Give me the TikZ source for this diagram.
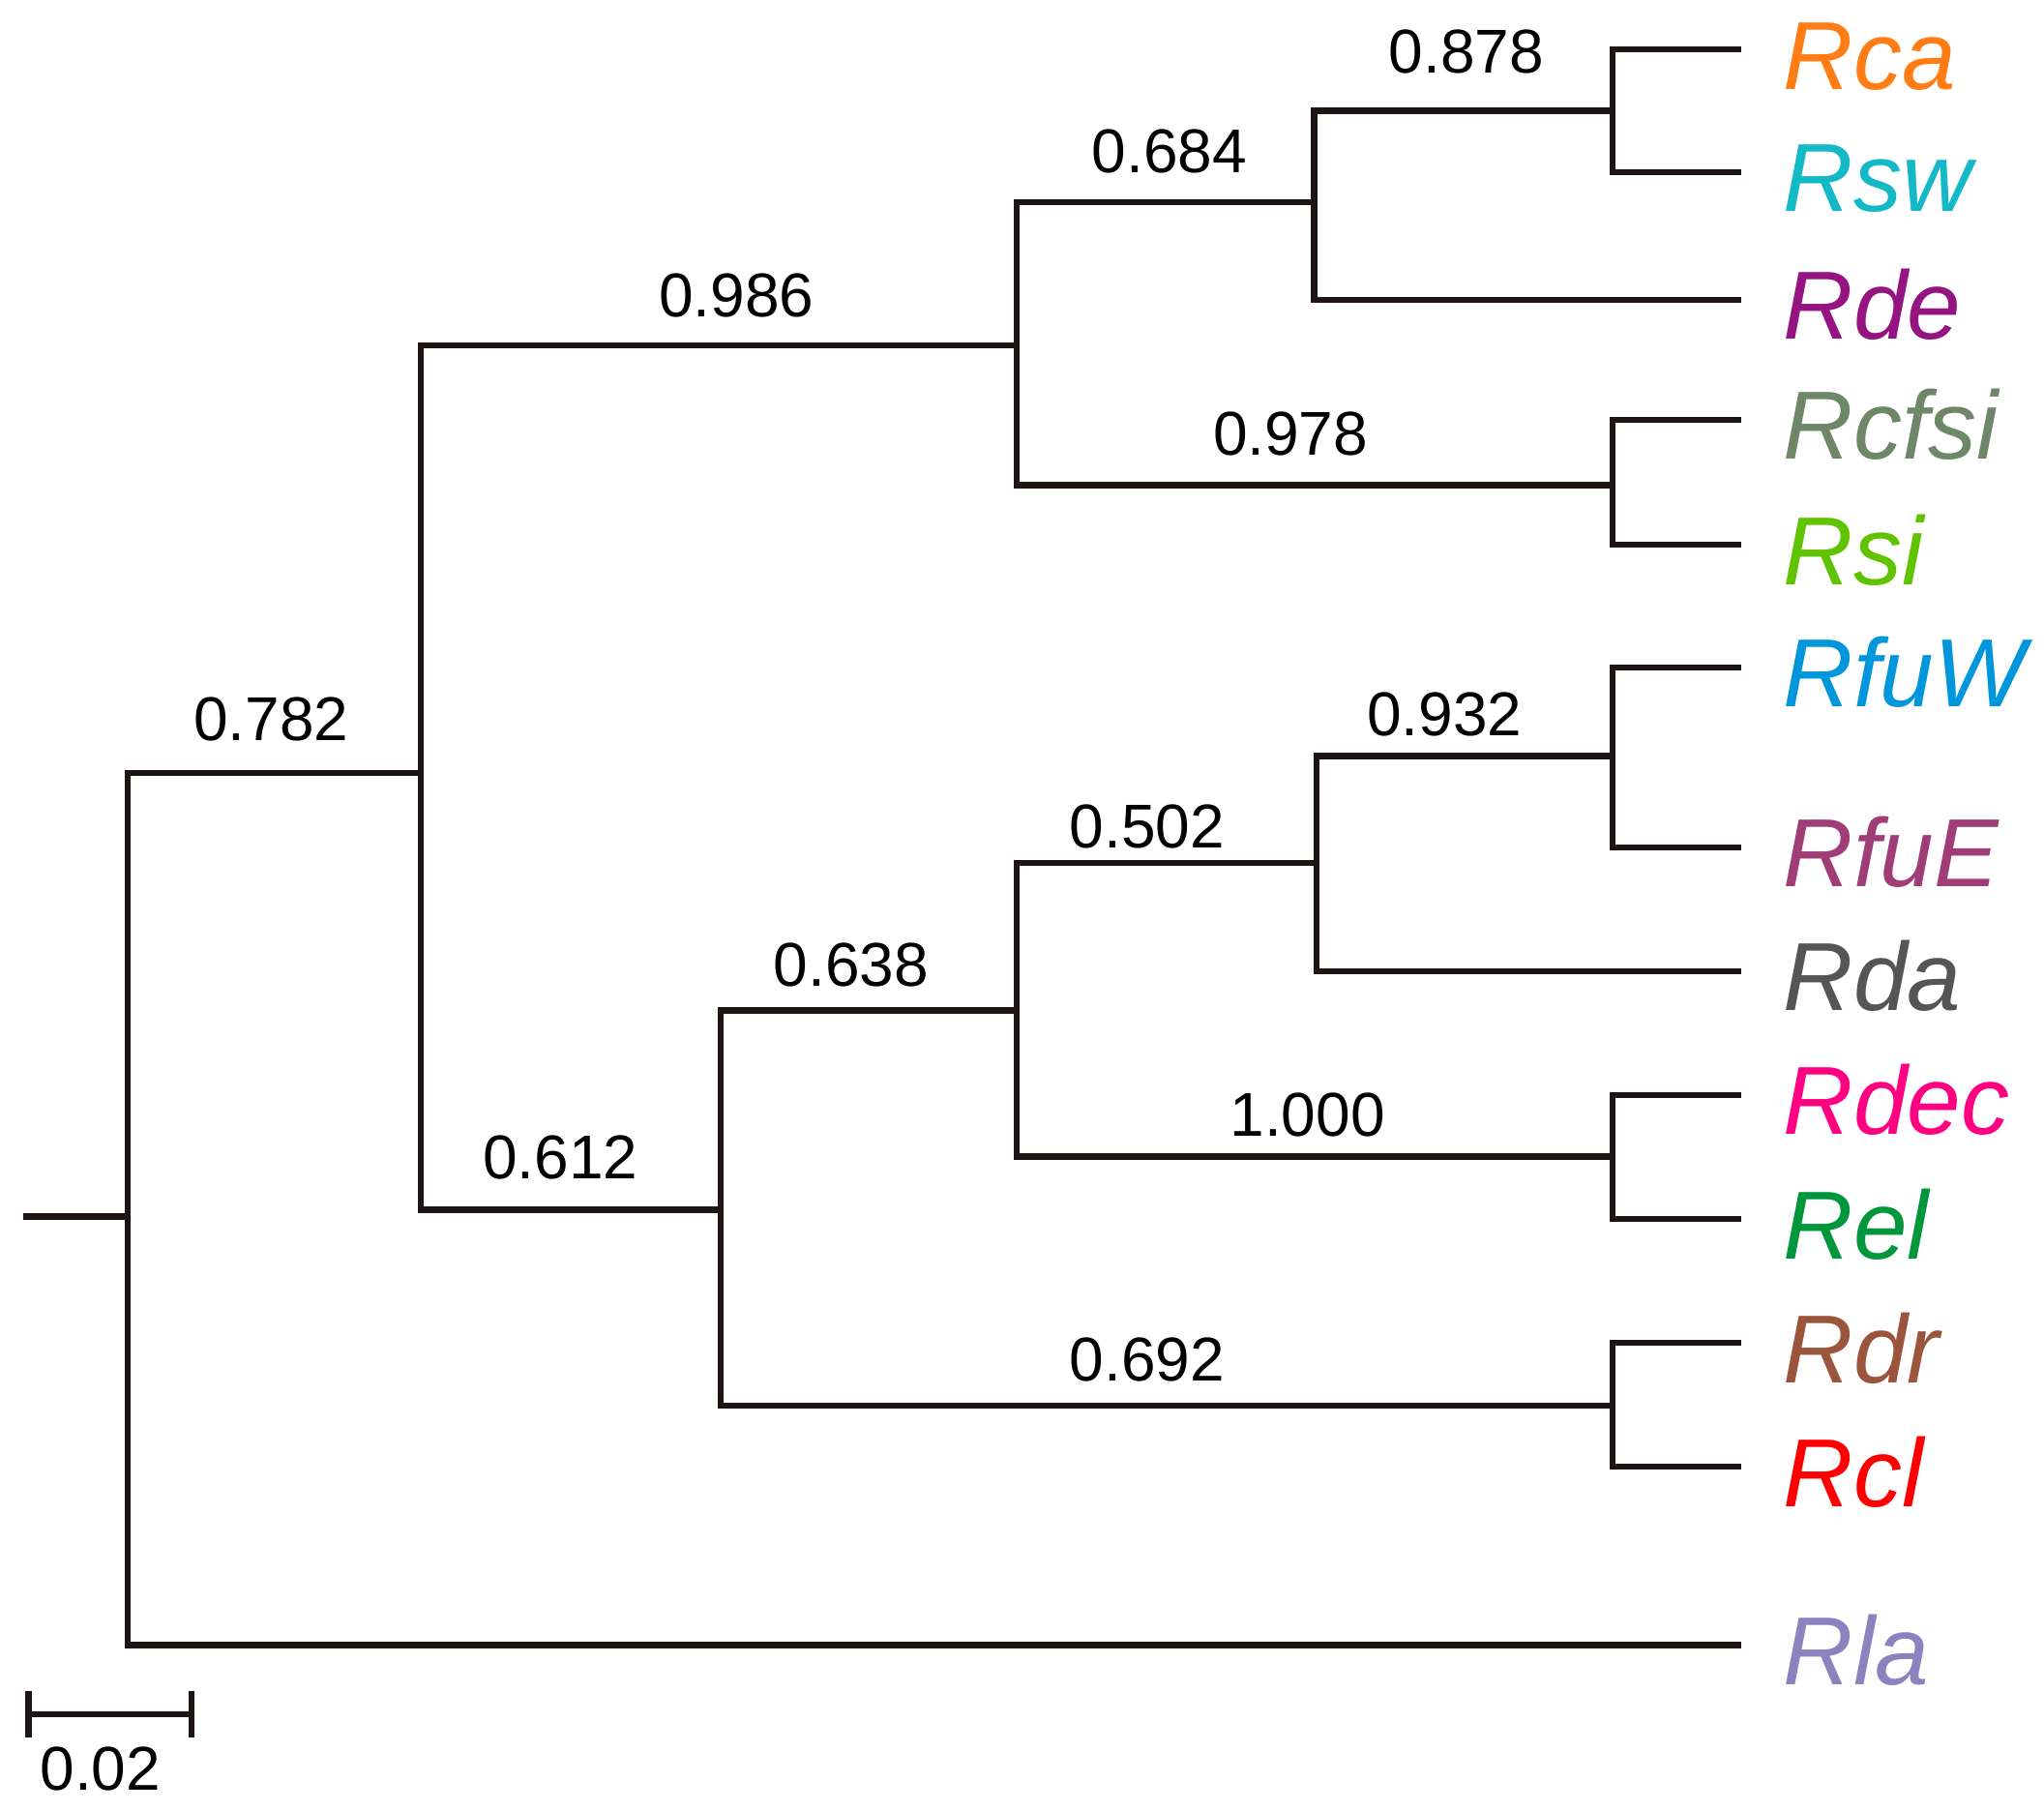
\documentclass[tikz,border=0pt]{standalone}
\usepackage{fontspec}
\setmainfont{Liberation Sans}
\definecolor{cRca}{RGB}{255,125,20}
\definecolor{cRsw}{RGB}{20,185,200}
\definecolor{cRde}{RGB}{150,20,130}
\definecolor{cRcfsi}{RGB}{110,135,105}
\definecolor{cRsi}{RGB}{95,195,0}
\definecolor{cRfuW}{RGB}{0,150,220}
\definecolor{cRfuE}{RGB}{160,60,120}
\definecolor{cRda}{RGB}{85,85,85}
\definecolor{cRdec}{RGB}{255,0,130}
\definecolor{cRel}{RGB}{0,150,60}
\definecolor{cRdr}{RGB}{155,85,60}
\definecolor{cRcl}{RGB}{255,0,0}
\definecolor{cRla}{RGB}{140,130,190}
\definecolor{branch}{RGB}{30,20,20}
\begin{document}
\begin{tikzpicture}[x=0.6738pt,y=-0.6738pt,
  br/.style={draw=branch,line width=3.2pt,line join=miter,line cap=rect},
  taxon/.style={anchor=base west,inner sep=0pt,font=\fontsize{50}{54}\selectfont\itshape,yshift=-20.5pt},
  support/.style={anchor=center,inner sep=0pt,font=\fontsize{32}{36}\selectfont}]
\fill[white] (0,0) rectangle (1568,1389);
\useasboundingbox (0,0) rectangle (1568,1389);
% internal nodes
\coordinate (stub) at (20,933);
\coordinate (root) at (98,933);
\coordinate (A) at (323,593);
\coordinate (B) at (780,265);
\coordinate (C) at (1008,155);
\coordinate (D) at (1237,85);
\coordinate (E) at (1237,372);
\coordinate (F) at (553,928);
\coordinate (G) at (780,775);
\coordinate (H) at (1010,662);
\coordinate (I) at (1237,580);
\coordinate (J) at (1237,887);
\coordinate (K) at (1237,1078);
% leaf tips
\coordinate (tRca) at (1333,38);
\coordinate (tRsw) at (1333,132);
\coordinate (tRde) at (1333,230);
\coordinate (tRcfsi) at (1333,322);
\coordinate (tRsi) at (1333,418);
\coordinate (tRfuW) at (1333,512);
\coordinate (tRfuE) at (1333,650);
\coordinate (tRda) at (1333,745);
\coordinate (tRdec) at (1333,840);
\coordinate (tRel) at (1333,935);
\coordinate (tRdr) at (1333,1030);
\coordinate (tRcl) at (1333,1125);
\coordinate (tRla) at (1333,1262);
% taxon labels
\node[taxon,text=cRca] (Rca) at (1368,38) {Rca};
\node[taxon,text=cRsw] (Rsw) at (1368,132) {Rsw};
\node[taxon,text=cRde] (Rde) at (1368,230) {Rde};
\node[taxon,text=cRcfsi] (Rcfsi) at (1368,322) {Rcfsi};
\node[taxon,text=cRsi] (Rsi) at (1368,418) {Rsi};
\node[taxon,text=cRfuW] (RfuW) at (1368,512) {RfuW};
\node[taxon,text=cRfuE] (RfuE) at (1368,650) {RfuE};
\node[taxon,text=cRda] (Rda) at (1368,745) {Rda};
\node[taxon,text=cRdec] (Rdec) at (1368,840) {Rdec};
\node[taxon,text=cRel] (Rel) at (1368,935) {Rel};
\node[taxon,text=cRdr] (Rdr) at (1368,1030) {Rdr};
\node[taxon,text=cRcl] (Rcl) at (1368,1125) {Rcl};
\node[taxon,text=cRla] (Rla) at (1368,1262) {Rla};
% branches
\draw[br] (stub) -- (root);
\draw[br] (A) -| (root) |- (tRla);
\draw[br] (B) -| (A) |- (F);
\draw[br] (C) -| (B) |- (E);
\draw[br] (D) -| (C) |- (tRde);
\draw[br] (tRca) -| (D) |- (tRsw);
\draw[br] (tRcfsi) -| (E) |- (tRsi);
\draw[br] (G) -| (F) |- (K);
\draw[br] (H) -| (G) |- (J);
\draw[br] (I) -| (H) |- (tRda);
\draw[br] (tRfuW) -| (I) |- (tRfuE);
\draw[br] (tRdec) -| (J) |- (tRel);
\draw[br] (tRdr) -| (K) |- (tRcl);
% support values
\node[support] (sA) at (208,552) {0.782};
\node[support] (sB) at (565,227) {0.986};
\node[support] (sC) at (897,116) {0.684};
\node[support] (sD) at (1125,40) {0.878};
\node[support] (sE) at (990,333) {0.978};
\node[support] (sF) at (430,888) {0.612};
\node[support] (sG) at (653,740) {0.638};
\node[support] (sH) at (880,634) {0.502};
\node[support] (sI) at (1108,548) {0.932};
\node[support] (sJ) at (1003,855) {1.000};
\node[support] (sK) at (880,1043) {0.692};
% scale bar
\coordinate (sb1) at (22,1315);
\coordinate (sb2) at (147,1315);
\draw[br,line cap=butt] (sb1) -- (sb2);
\draw[br,line cap=butt] ([yshift=-12pt]sb1) -- ([yshift=12pt]sb1);
\draw[br,line cap=butt] ([yshift=-12pt]sb2) -- ([yshift=12pt]sb2);
\node[support] (sbl) at (77,1357) {0.02};
\end{tikzpicture}
\end{document}
